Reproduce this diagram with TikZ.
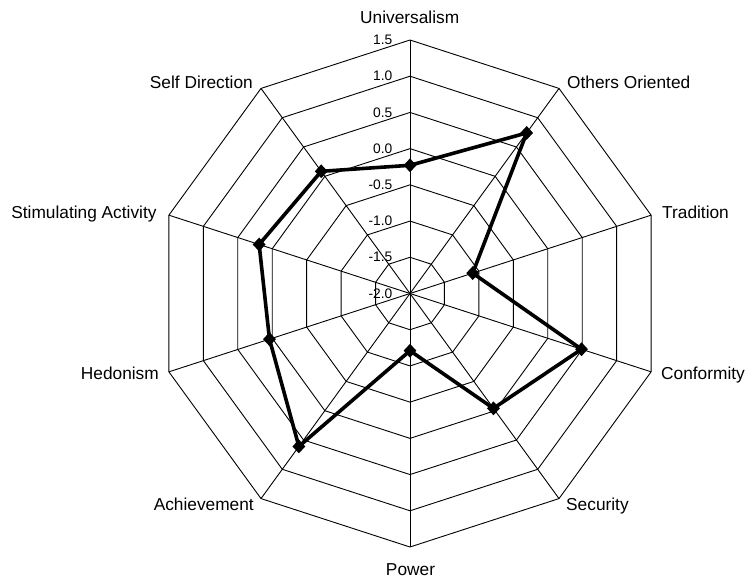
\documentclass[tikz,border=0pt]{standalone}
\usepackage{fontspec}
\setmainfont{Liberation Sans}
\usetikzlibrary{shapes.geometric}
\begin{document}
\begin{tikzpicture}[x=1pt,y=-1pt,
  gridline/.style={black, line width=0.9pt},
  series/.style={black, line width=3.6pt, line join=miter},
  marker/.style={diamond, fill=black, draw=none, inner sep=0pt, minimum width=13pt, minimum height=14pt},
  lab/.style={font=\fontsize{17.3}{20}\selectfont, inner sep=0pt},
  ticklab/.style={font=\fontsize{13.8}{16}\selectfont, inner sep=0pt, anchor=east}]
\useasboundingbox (0,0) rectangle (747,578);
\fill[white] (0,0) rectangle (747,578);
\coordinate (C) at (410,293.5);
\begin{scope}[shift={(C)}]
  % rings
  \foreach \k in {1,...,7} {
    \draw[gridline] (90:\k*36.214pt)
      \foreach \i in {1,...,9} { -- (90-36*\i:\k*36.214pt) } -- cycle;
  }
  % spokes
  \foreach \i in {0,...,9} {
    \coordinate (v\i) at (90-36*\i:253.5pt);
    \draw[gridline] (0,0) -- (v\i);
  }
  % data points
  \foreach \v [count=\i from 0] in {-0.23,0.74,-1.09,0.49,-0.04,-1.21,0.61,0.04,0.19,0.085} {
    \coordinate (p\i) at (90-36*\i:{(\v+2)*72.43pt});
  }
\end{scope}
\draw[series] (p0) -- (p1) -- (p2) -- (p3) -- (p4) -- (p5) -- (p6) -- (p7) -- (p8) -- (p9) -- cycle;
\foreach \i in {0,...,9} \node[marker] (m\i) at (p\i) {};
% tick labels
\node[ticklab] (t7) at (392.5,40.0) {1.5};
\node[ticklab] (t6) at (392.5,76.2) {1.0};
\node[ticklab] (t5) at (392.5,112.4) {0.5};
\node[ticklab] (t4) at (392.5,148.6) {0.0};
\node[ticklab] (t3) at (392.5,184.8) {-0.5};
\node[ticklab] (t2) at (392.5,221.0) {-1.0};
\node[ticklab] (t1) at (392.5,257.3) {-1.5};
\node[ticklab] (t0) at (392.5,293.5) {-2.0};
% category labels
\node[lab, anchor=base] (l0) at (409.7,23.3) {Universalism};
\node[lab, anchor=base west] (l1) at (567,88.3) {Others Oriented};
\node[lab, anchor=base west] (l2) at (662,218.3) {Tradition};
\node[lab, anchor=base west] (l3) at (661,379) {Conformity};
\node[lab, anchor=base west] (l4) at (566,510) {Security};
\node[lab, anchor=base] (l5) at (410.5,575) {Power};
\node[lab, anchor=base east] (l6) at (254,510) {Achievement};
\node[lab, anchor=base east] (l7) at (159,379) {Hedonism};
\node[lab, anchor=base east] (l8) at (156.7,218.3) {Stimulating Activity};
\node[lab, anchor=base east] (l9) at (253,88.3) {Self Direction};
\end{tikzpicture}
\end{document}
